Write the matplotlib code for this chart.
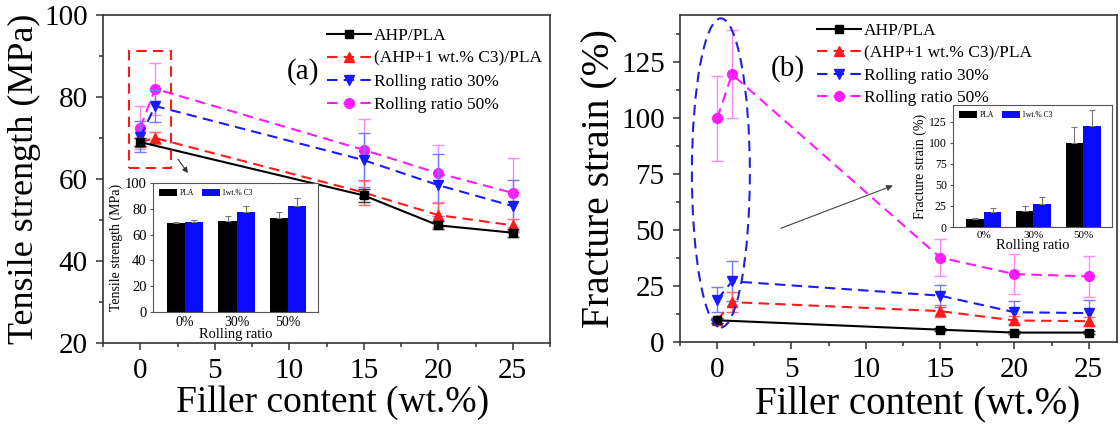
import matplotlib
matplotlib.use("Agg")
import matplotlib.pyplot as plt
import numpy as np
from matplotlib.patches import Rectangle, Ellipse, Patch
from matplotlib.ticker import MultipleLocator

plt.rcParams['font.family'] = ['Liberation Serif', 'DejaVu Serif']

# ---------------- data ----------------
series_labels = ["AHP/PLA", "(AHP+1 wt.% C3)/PLA", "Rolling ratio 30%", "Rolling ratio 50%"]
x_plain = [0, 15, 20, 25]
x_c3 = [0, 1, 15, 20, 25]

# (a) tensile strength, MPa
ts_ahp = [69.0, 56.0, 48.7, 46.9]
ts_ahp_err = [1.0, 1.5, 1.0, 1.0]
ts_c3 = [69.0, 70.0, 56.7, 51.2, 48.7]
ts_c3_err = [1.0, 1.5, 3.0, 3.0, 1.5]
ts_r30 = [70.3, 77.8, 64.6, 58.5, 53.4]
ts_r30_err = [3.8, 4.0, 6.5, 7.5, 6.3]
ts_r50 = [72.5, 82.0, 67.1, 61.4, 56.6]
ts_r50_err = [5.3, 6.4, 7.5, 7.0, 8.4]

# (b) fracture strain, %
fs_ahp = [9.7, 5.5, 4.2, 4.2]
fs_ahp_err = [1.0, 0.8, 0.8, 0.8]
fs_c3 = [9.7, 17.8, 13.8, 9.6, 9.3]
fs_c3_err = [1.0, 4.4, 2.7, 2.0, 2.0]
fs_r30 = [18.9, 27.1, 20.7, 13.3, 12.9]
fs_r30_err = [5.5, 9.0, 4.9, 5.2, 5.9]
fs_r50 = [99.9, 119.5, 37.7, 30.3, 29.3]
fs_r50_err = [19.0, 19.7, 8.2, 9.0, 9.3]

rolling_labels = ["0%", "30%", "50%"]
bar_labels = ["PLA", "1wt.% C3"]

colors = ["black", "#ff1a1a", "#1a1aff", "#ff1aff"]
err_colors = ["#333333", "#ff6666", "#7777ff", "#ff88ff"]
markers = ["s", "^", "v", "o"]
msizes = [5.5, 7, 7, 7]

W, H = 1120, 426
fig = plt.figure(figsize=(W / 100, H / 100), dpi=100)


def rect(x0, y0, x1, y1):
    return [x0 / W, 1 - y1 / H, (x1 - x0) / W, (y1 - y0) / H]


def style_axes(ax, labelsize):
    for s in ax.spines.values():
        s.set_linewidth(1.2)
        s.set_color("#333333")
    ax.tick_params(which="both", direction="out", top=False, right=False,
                   labelsize=labelsize, width=1.1, color="#333333")
    ax.tick_params(which="major", length=5, pad=6)
    ax.tick_params(which="minor", length=3)


def draw_series(ax, data):
    handles = []
    for i, (xs, ys, es) in enumerate(data):
        ls = "-" if i == 0 else "--"
        cont = ax.errorbar(xs, ys, yerr=es, color=colors[i], ecolor=err_colors[i],
                           elinewidth=1.0, capsize=4, capthick=1.0,
                           linestyle=ls, linewidth=1.5, marker=markers[i],
                           markersize=msizes[i], zorder=6 - i)
        if i > 0:
            cont[0].set_dashes((5, 3))
        handles.append(cont[0])
    return handles


def draw_inset(ax, pla, pla_err, c3, c3_err, ylim, step, ylabel, tick_fs, lab_fs):
    pos = np.arange(len(rolling_labels))
    w = 0.35
    ax.bar(pos - w / 2, pla, w, color="black",
           yerr=[np.zeros(len(pla)), pla_err], ecolor="#777777",
           error_kw=dict(elinewidth=0.8, capsize=2, capthick=0.8))
    ax.bar(pos + w / 2, c3, w, color="#0a0aff",
           yerr=[np.zeros(len(c3)), c3_err], ecolor="#777777",
           error_kw=dict(elinewidth=0.8, capsize=2, capthick=0.8))
    ax.set_xlim(-0.62, 2.58)
    ax.set_ylim(*ylim)
    ax.yaxis.set_major_locator(MultipleLocator(step))
    ax.set_xticks(pos)
    ax.set_xticklabels(rolling_labels)
    for s in ax.spines.values():
        s.set_linewidth(0.8)
        s.set_color("#555555")
    ax.tick_params(direction="out", length=2.5, width=0.8, labelsize=tick_fs, pad=2,
                   color="#555555")
    ax.tick_params(axis="x", length=0, pad=3, labelsize=tick_fs - 0.5)
    ax.set_xlabel("Rolling ratio", fontsize=lab_fs, labelpad=-1)
    ax.set_ylabel(ylabel, fontsize=lab_fs - 0.5, labelpad=1)
    leg_h = [Patch(facecolor="black"), Patch(facecolor="#0a0aff")]
    ax.legend(leg_h, bar_labels, loc="upper left", ncol=2, frameon=False,
              fontsize=5.5, handlelength=2.4, handleheight=0.9,
              columnspacing=1.0, handletextpad=0.3, borderaxespad=0.4)


# ---------------- panel (a) ----------------
ax1 = fig.add_axes(rect(103, 15, 550, 343))
style_axes(ax1, 21)
h1 = draw_series(ax1, [(x_plain, ts_ahp, ts_ahp_err), (x_c3, ts_c3, ts_c3_err),
                       (x_c3, ts_r30, ts_r30_err), (x_c3, ts_r50, ts_r50_err)])
ax1.set_xlim(-2.5, 27.5)
ax1.set_ylim(20, 100)
ax1.xaxis.set_major_locator(MultipleLocator(5))
ax1.xaxis.set_minor_locator(MultipleLocator(2.5))
ax1.yaxis.set_major_locator(MultipleLocator(20))
ax1.yaxis.set_minor_locator(MultipleLocator(10))
ax1.set_xlabel("Filler content (wt.%)", fontsize=27, labelpad=0)
ax1.xaxis.set_label_coords(0.513, -0.182)
ax1.xaxis.label.set_va("center")
ax1.set_ylabel("Tensile strength (MPa)", fontsize=26, labelpad=2)
ax1.legend(h1, series_labels, loc="upper left", bbox_to_anchor=(0.502, 0.962),
           frameon=False, fontsize=12.5, handlelength=2.5, handletextpad=0.2,
           labelspacing=0.4, borderpad=0, borderaxespad=0, numpoints=1)
ax1.text(10.9, 86.1, "(a)", fontsize=21, ha="center", va="center")
ax1.add_patch(Rectangle((-0.77, 62.6), 2.85, 28.7, fill=False, edgecolor="#ff1a1a",
                        linestyle=(0, (5, 3)), linewidth=1.5, zorder=7))
ax1.annotate("", xy=(3.31, 60.9), xytext=(2.42, 65.4),
             arrowprops=dict(arrowstyle="-|>", color="#333333", lw=0.8,
                             mutation_scale=8))

ins1 = fig.add_axes(rect(153, 183, 318, 312))
draw_inset(ins1, [ts_ahp[0], ts_r30[0], ts_r50[0]],
           [ts_ahp_err[0], ts_r30_err[0], ts_r50_err[0]],
           [ts_c3[1], ts_r30[1], ts_r50[1]],
           [ts_c3_err[1], ts_r30_err[1], ts_r50_err[1]],
           (0, 100), 20, "Tensile strength (MPa)", 10.5, 10.5)

# ---------------- panel (b) ----------------
ax2 = fig.add_axes(rect(680, 15, 1117, 342))
style_axes(ax2, 21)
h2 = draw_series(ax2, [(x_plain, fs_ahp, fs_ahp_err), (x_c3, fs_c3, fs_c3_err),
                       (x_c3, fs_r30, fs_r30_err), (x_c3, fs_r50, fs_r50_err)])
ax2.set_xlim(-2.5, 26.9)
ax2.set_ylim(0, 146)
ax2.xaxis.set_major_locator(MultipleLocator(5))
ax2.xaxis.set_minor_locator(MultipleLocator(2.5))
ax2.yaxis.set_major_locator(MultipleLocator(25))
ax2.yaxis.set_minor_locator(MultipleLocator(12.5))
ax2.set_xlabel("Filler content (wt.%)", fontsize=28, labelpad=2)
ax2.xaxis.set_label_coords(0.543, -0.19)
ax2.xaxis.label.set_va("center")
ax2.set_ylabel("Fracture strain (%)", fontsize=28.5, labelpad=2)
ax2.legend(h2, series_labels, loc="upper left", bbox_to_anchor=(0.314, 0.975),
           frameon=False, fontsize=12.5, handlelength=2.5, handletextpad=0.2,
           labelspacing=0.35, borderpad=0, borderaxespad=0, numpoints=1)
ax2.text(4.76, 122, "(b)", fontsize=21, ha="center", va="center")
ax2.add_patch(Ellipse((0.25, 75.5), 3.9, 138, fill=False, edgecolor="#2222dd",
                      linestyle=(0, (5, 3)), linewidth=1.5, zorder=7))
ax2.annotate("", xy=(12.0, 70.3), xytext=(4.1, 50.3),
             arrowprops=dict(arrowstyle="-|>", color="#444444", lw=0.8,
                             mutation_scale=9))

ins2 = fig.add_axes(rect(953, 105, 1112, 227))
draw_inset(ins2, [fs_ahp[0], fs_r30[0], fs_r50[0]],
           [fs_ahp_err[0], fs_r30_err[0], fs_r50_err[0]],
           [fs_c3[1], fs_r30[1], fs_r50[1]],
           [fs_c3_err[1], fs_r30_err[1], fs_r50_err[1]],
           (0, 145), 25, "Fracture strain (%)", 8.5, 10.5)

fig.savefig("out.png", dpi=100)
